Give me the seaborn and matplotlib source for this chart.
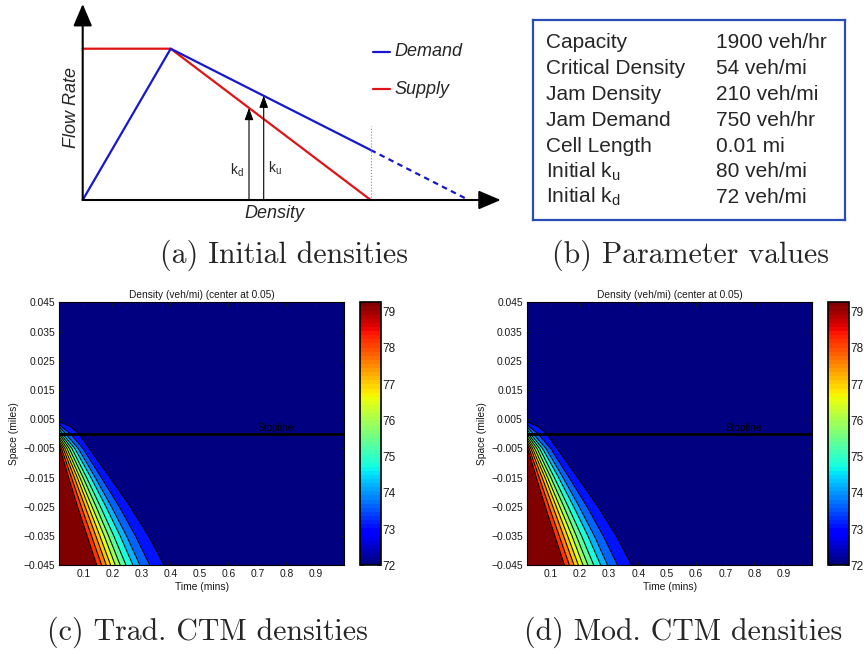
import matplotlib
matplotlib.use("Agg")
import matplotlib.pyplot as plt
import seaborn as sns
from matplotlib.cm import ScalarMappable
from matplotlib.colors import Normalize

sns.set_style("white")
plt.rcParams['font.family'] = ['Liberation Sans', 'DejaVu Sans']

# (a) schematic fundamental diagram (schematic units)
demand_density = [0, 88, 288]
demand_flow = [0, 151.3, 50]
demand_ext_density = [288, 386]
demand_ext_flow = [50, 0]
supply_density = [0, 88, 288]
supply_flow = [151.3, 151.3, 0]
k_d, k_d_flow = 166.3, 92
k_u, k_u_flow = 181, 104.3

# (b) parameters
param_names = ["Capacity", "Critical Density", "Jam Density", "Jam Demand",
               "Cell Length", r"Initial $\mathregular{k_u}$", r"Initial $\mathregular{k_d}$"]
param_values = ["1900 veh/hr", "54 veh/mi", "210 veh/mi", "750 veh/hr",
                "0.01 mi", "80 veh/mi", "72 veh/mi"]

# (c)/(d) density contours: for each contour line (inner -> outer), the time
# where it crosses each space row, and the space where it meets t = start
time_start, time_end = 0.0167, 1.0
space_rows = [0.0025, 0.0, -0.005, -0.015, -0.025, -0.035, -0.045]
front_top = [-0.0045, -0.0036, -0.0028, -0.0019, -0.0011, -0.0002,
             0.0007, 0.0015, 0.0024, 0.0032, 0.0041]
front_times = [
    [None, None, 0.019, 0.049, 0.080, 0.113, 0.146],
    [None, None, 0.024, 0.059, 0.093, 0.128, 0.163],
    [None, None, 0.030, 0.069, 0.106, 0.143, 0.179],
    [None, None, 0.036, 0.079, 0.118, 0.157, 0.194],
    [None, None, 0.043, 0.088, 0.130, 0.172, 0.210],
    [None, None, 0.051, 0.099, 0.144, 0.187, 0.227],
    [None, 0.021, 0.060, 0.111, 0.159, 0.205, 0.247],
    [None, 0.028, 0.070, 0.126, 0.178, 0.227, 0.271],
    [None, 0.038, 0.082, 0.141, 0.197, 0.249, 0.295],
    [0.024, 0.055, 0.098, 0.162, 0.224, 0.280, 0.329],
    [0.055, 0.085, 0.120, 0.192, 0.262, 0.325, 0.378],
]
band_density = [79.26, 78.2, 77.6, 77.0, 76.5, 75.9, 75.4, 74.8, 74.2, 73.7, 73.1]
downstream_density = 72.0
cbar_range = (72.0, 79.26)
cbar_ticks = [72, 73, 74, 75, 76, 77, 78, 79]
time_ticks = [0.1, 0.2, 0.3, 0.4, 0.5, 0.6, 0.7, 0.8, 0.9]
space_ticks = [0.045, 0.035, 0.025, 0.015, 0.005, -0.005, -0.015, -0.025, -0.035, -0.045]

W, H = 864, 654
fig = plt.figure(figsize=(W / 100, H / 100), dpi=100)


def box(x0, y0, x1, y1):
    return [x0 / W, 1 - y1 / H, (x1 - x0) / W, (y1 - y0) / H]


RED = (0.88, 0.08, 0.08)
BLUE = (0.09, 0.09, 0.80)

# ---------------- (a) ----------------
ax = fig.add_axes(box(60, 0, 510, 225))
ax.set_xlim(-22.7, 427.3)
ax.set_ylim(-25, 200)
ax.axis('off')
big = dict(arrowstyle='-|>,head_length=0.75,head_width=0.32', color='k', lw=1.5,
           mutation_scale=18, shrinkA=0, shrinkB=0)
ax.annotate('', xy=(0, 196), xytext=(0, 0), arrowprops=big)
ax.annotate('', xy=(418, 0), xytext=(0, 0), arrowprops=big)
sns.lineplot(x=supply_density, y=supply_flow, ax=ax, color=RED, lw=1.6, sort=False, estimator=None)
sns.lineplot(x=demand_density, y=demand_flow, ax=ax, color=BLUE, lw=1.6, sort=False, estimator=None)
ax.plot(demand_ext_density, demand_ext_flow, color=BLUE, lw=1.6, dashes=(2.5, 2))
ax.plot([demand_ext_density[0]] * 2, [0, 74], color='0.55', lw=0.8, ls=':')
small = dict(arrowstyle='-|>,head_length=0.6,head_width=0.22', color='k', lw=0.8,
             mutation_scale=12, shrinkA=0, shrinkB=0)
ax.annotate('', xy=(k_d, k_d_flow), xytext=(k_d, 0), arrowprops=small)
ax.annotate('', xy=(k_u, k_u_flow), xytext=(k_u, 0), arrowprops=small)
ax.text(k_d - 5, 30, r'$\mathregular{k_d}$', fontsize=10, ha='right', va='center')
ax.text(k_u + 4, 32, r'$\mathregular{k_u}$', fontsize=10, ha='left', va='center')
ax.plot([290, 307], [148, 148], color=BLUE, lw=1.6)
ax.text(312, 148, 'Demand', fontsize=13, style='italic', va='center')
ax.plot([290, 307], [111, 111], color=RED, lw=1.6)
ax.text(312, 111, 'Supply', fontsize=13, style='italic', va='center')
ax.text(-11, 93, 'Flow Rate', fontsize=13, style='italic', rotation=90, ha='center', va='center')
ax.text(192, -13, 'Density', fontsize=13, style='italic', ha='center', va='center')

# ---------------- (b) ----------------
axb = fig.add_axes(box(533, 20, 845, 220))
axb.set_xticks([])
axb.set_yticks([])
for s in axb.spines.values():
    s.set_color('#2a4db5')
    s.set_linewidth(1.6)
for i, (name, val) in enumerate(zip(param_names, param_values)):
    yy = 1 - (48.3 + 25.8 * i - 20) / 200
    axb.text(0.042, yy, name, fontsize=15, va='baseline', transform=axb.transAxes)
    axb.text(0.587, yy, val, fontsize=15, va='baseline', transform=axb.transAxes)

# ---------------- (c), (d) ----------------
cmap = matplotlib.colormaps['jet'].resampled(64)
norm = Normalize(*cbar_range)


def density_panel(axes_box, cbar_box):
    ax = fig.add_axes(box(*axes_box))
    cax = fig.add_axes(box(*cbar_box))
    ax.set_facecolor(cmap(norm(downstream_density)))
    lines = []
    for top, times in zip(front_top, front_times):
        ts = [time_start] + [t for t in times if t is not None]
        ys = [top] + [y for t, y in zip(times, space_rows) if t is not None]
        lines.append((ts, ys))
    for (ts, ys), dens in reversed(list(zip(lines, band_density))):
        ax.fill(ts + [time_start], ys + [space_rows[-1]], color=cmap(norm(dens)), lw=0, zorder=1)
    for ts, ys in lines:
        ax.plot(ts, ys, color='k', lw=0.75, zorder=2)
    ax.axhline(0, color='k', lw=2, zorder=3)
    ax.text(0.7, 0.0002, 'Stopline', fontsize=7.3, va='bottom', ha='left', color='k', zorder=4)
    ax.set_xlim(time_start, time_end)
    ax.set_ylim(space_ticks[-1], space_ticks[0])
    ax.set_xticks(time_ticks)
    ax.set_xticklabels([f'{t:.1f}' for t in time_ticks])
    ax.set_yticks(space_ticks)
    ax.set_yticklabels([f'{s:.3f}'.replace('-', '\u2212') for s in space_ticks])
    ax.tick_params(direction='in', length=3, width=0.6, labelsize=7.4, colors='0.1',
                   bottom=True, left=True, top=True, right=True, pad=3)
    for s in ax.spines.values():
        s.set_color('k')
        s.set_linewidth(0.8)
    ax.set_title('Density (veh/mi) (center at 0.05)', fontsize=7.3, pad=3, color='0.1')
    ax.set_xlabel('Time (mins)', fontsize=7.4, labelpad=2, color='0.1')
    ax.set_ylabel('Space (miles)', fontsize=7.4, labelpad=3, color='0.1')
    cb = fig.colorbar(ScalarMappable(norm=norm, cmap=cmap), cax=cax, ticks=cbar_ticks)
    cb.outline.set_linewidth(1.2)
    cb.outline.set_edgecolor('k')
    cax.tick_params(direction='in', length=3, width=0.6, labelsize=8.5, colors='0.1',
                    left=True, right=True, labelleft=False, labelright=True, pad=1)


density_panel((59.3, 302.3, 344.3, 565.3), (360, 302.3, 381, 565.3))
density_panel((527, 302.3, 812.3, 565.3), (828.3, 302.3, 849, 565.3))

# captions
cap = dict(ha='center', va='center', fontsize=21.5, family='cmr10')
fig.text(284 / W, 1 - 255 / H, '(a) Initial densities', **cap)
fig.text(690 / W, 1 - 255 / H, '(b) Parameter values', **cap)
fig.text(207 / W, 1 - 632 / H, '(c) Trad. CTM densities', **cap)
fig.text(683 / W, 1 - 632 / H, '(d) Mod. CTM densities', **cap)

fig.savefig('out.png', dpi=100)
